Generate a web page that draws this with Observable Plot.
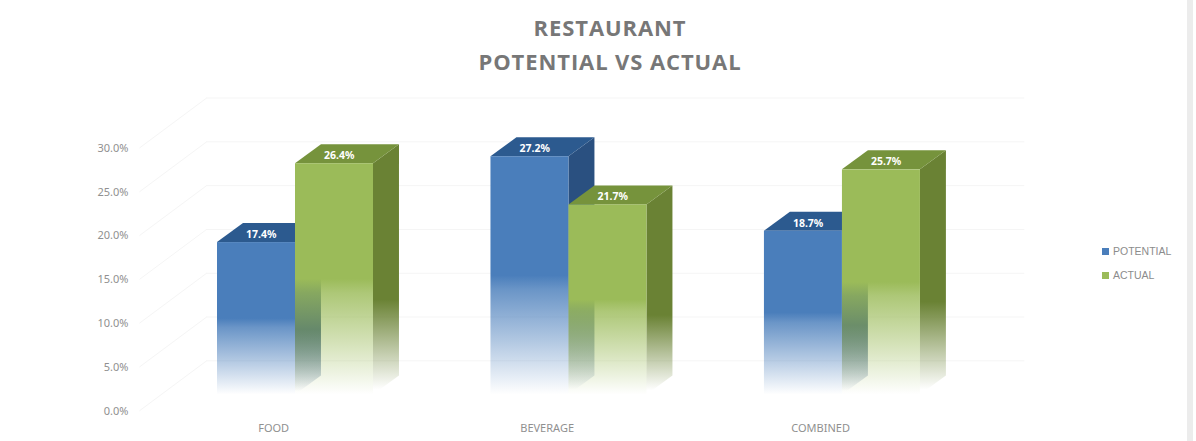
<!DOCTYPE html>
<html>
<head>
<meta charset="utf-8">
<script src="https://cdn.jsdelivr.net/npm/d3@7"></script>
<script src="https://cdn.jsdelivr.net/npm/@observablehq/plot@0.6"></script>
<style>
  html, body { margin: 0; background: #fff; }
  #page { position: relative; width: 1196px; height: 441px; overflow: hidden; font-family: "Liberation Sans", sans-serif; }
  #page::after { content: ""; position: absolute; left: 1187px; top: 0; width: 6px; height: 441px; background: #ececec; }
  #title { height: 80px; box-sizing: border-box; padding-top: 10px; text-align: center; color: #777; font: bold 22px/34px "Open Sans", sans-serif; letter-spacing: 0.9px; margin-left: 24px; }
  #legend { position: absolute; left: 1102px; top: 239px; font-size: 10.5px; color: #8c8c8c; line-height: 24px; }
  #legend span { display: inline-block; width: 7px; height: 7px; margin-right: 4px; }
  svg { display: block; }
</style>
</head>
<body>
<div id="page">
  <div id="title">RESTAURANT<br>POTENTIAL VS ACTUAL</div>
  <div id="chart"></div>
  <div id="legend"></div>
</div>
<script>
// Values per category, in percent
const categories = ["FOOD", "BEVERAGE", "COMBINED"];
const potential = [17.4, 27.2, 18.7];
const actual = [26.4, 21.7, 25.7];
const yTicks = [0, 5, 10, 15, 20, 25, 30];

// Colour sets for the two series: front, top and side faces
const seriesStyles = [
  {name: "POTENTIAL", values: potential, id: "blue", front: "#4a7ebb", top: "#2c5a8f", side: "#2a5080", slot: 0},
  {name: "ACTUAL", values: actual, id: "green", front: "#9bbb59", top: "#76933c", side: "#6a8234", slot: 1}
];

// Pseudo-3D geometry in scale units: x in bar widths, y in percentage points
const groupStep = 3.506;
const depthX = 0.333;
const depthY = 2.17;
const wallX = 0.86;
const wallY = 5.7;
const wallEnd = 10.35;
const frontY = 1.8;

// Vertical fades for the front and side faces
function fade(defs, id, color, stops) {
  const g = defs.append("linearGradient").attr("id", id).attr("x1", 0).attr("y1", 0).attr("x2", 0).attr("y2", 1);
  stops.forEach(([o, a]) =>
    g.append("stop").attr("offset", o).attr("stop-color", color).attr("stop-opacity", a));
}
const defs = d3.create("svg:defs");
for (const s of seriesStyles) {
  fade(defs, `${s.id}-front`, s.front, [[0, 1], [0.5, 1], [0.56, 0.82], [0.78, 0.42], [1, 0]]);
  fade(defs, `${s.id}-side`, s.side, [[0, 1], [0.62, 1], [0.98, 0]]);
}

// Builds the boxes of one series from its values
function boxes(s) {
  return s.values.map((v, i) => {
    const left = i * groupStep + s.slot;
    return {category: categories[i], value: v, left, right: left + 1};
  });
}
function topFace(b) {
  return [
    {k: b.category, x: b.left, y1: b.value, y2: b.value},
    {k: b.category, x: b.left + depthX, y1: b.value, y2: b.value + depthY},
    {k: b.category, x: b.right, y1: b.value, y2: b.value + depthY},
    {k: b.category, x: b.right + depthX, y1: b.value + depthY, y2: b.value + depthY}
  ];
}
function sideFace(b) {
  return [
    {k: b.category, x: b.right, y1: 0, y2: b.value},
    {k: b.category, x: b.right + depthX, y1: depthY, y2: b.value + depthY}
  ];
}

// Faint back wall with the diagonals running out to the axis labels
const gridColor = "#f5f5f5";
const wallMarks = [
  Plot.ruleY(yTicks, {y: d => d + wallY - frontY, x1: wallX - 1.0, x2: wallEnd, stroke: gridColor}),
  Plot.link(yTicks, {
    x1: -1.0,
    x2: wallX - 1.0,
    y1: d => d - frontY,
    y2: d => d + wallY - frontY,
    stroke: gridColor
  })
];

const seriesMarks = seriesStyles.flatMap(s => {
  const b = boxes(s);
  return [
    Plot.areaY(b.flatMap(sideFace), {x: "x", y1: "y1", y2: "y2", z: "k", fill: `url(#${s.id}-side)`}),
    Plot.areaY(b.flatMap(topFace), {x: "x", y1: "y1", y2: "y2", z: "k", fill: s.top}),
    Plot.rectY(b, {x1: "left", x2: "right", y1: 0, y2: "value", fill: `url(#${s.id}-front)`}),
    Plot.text(b, {
      x: d => d.left + 0.56,
      y: "value",
      dy: -8,
      text: d => d.value.toFixed(1) + "%",
      fill: "white",
      fontWeight: "bold",
      fontSize: 10.5
    })
  ];
});

const chart = Plot.plot({
  width: 1196,
  height: 361,
  marginLeft: 128,
  marginRight: 0,
  marginTop: 0,
  marginBottom: 0,
  x: {domain: [0, 10], range: [217, 997], axis: null},
  y: {domain: [0, 30], range: [314.5, 51.7], axis: null},
  marks: [
    () => defs.node(),
    ...wallMarks,
    ...seriesMarks,
    // Value axis and category labels sit on the front edge of the floor
    Plot.axisY({
      ticks: yTicks,
      tickFormat: d => d.toFixed(1) + "%",
      tickSize: 0,
      tickPadding: 0,
      dy: 16,
      fontSize: 11,
      fill: "#909090",
      label: null
    }),
    Plot.text(categories, {
      x: (d, i) => i * groupStep + 0.72,
      y: 0,
      dy: 33.5,
      text: d => d,
      fontSize: 11,
      fill: "#909090"
    })
  ]
});
document.getElementById("chart").append(chart);

// Series key to the right of the plot
const legend = d3.select("#legend");
for (const s of seriesStyles) {
  const row = legend.append("div");
  row.append("span").style("background", s.front);
  row.append("text").text(s.name);
}
</script>
</body>
</html>
